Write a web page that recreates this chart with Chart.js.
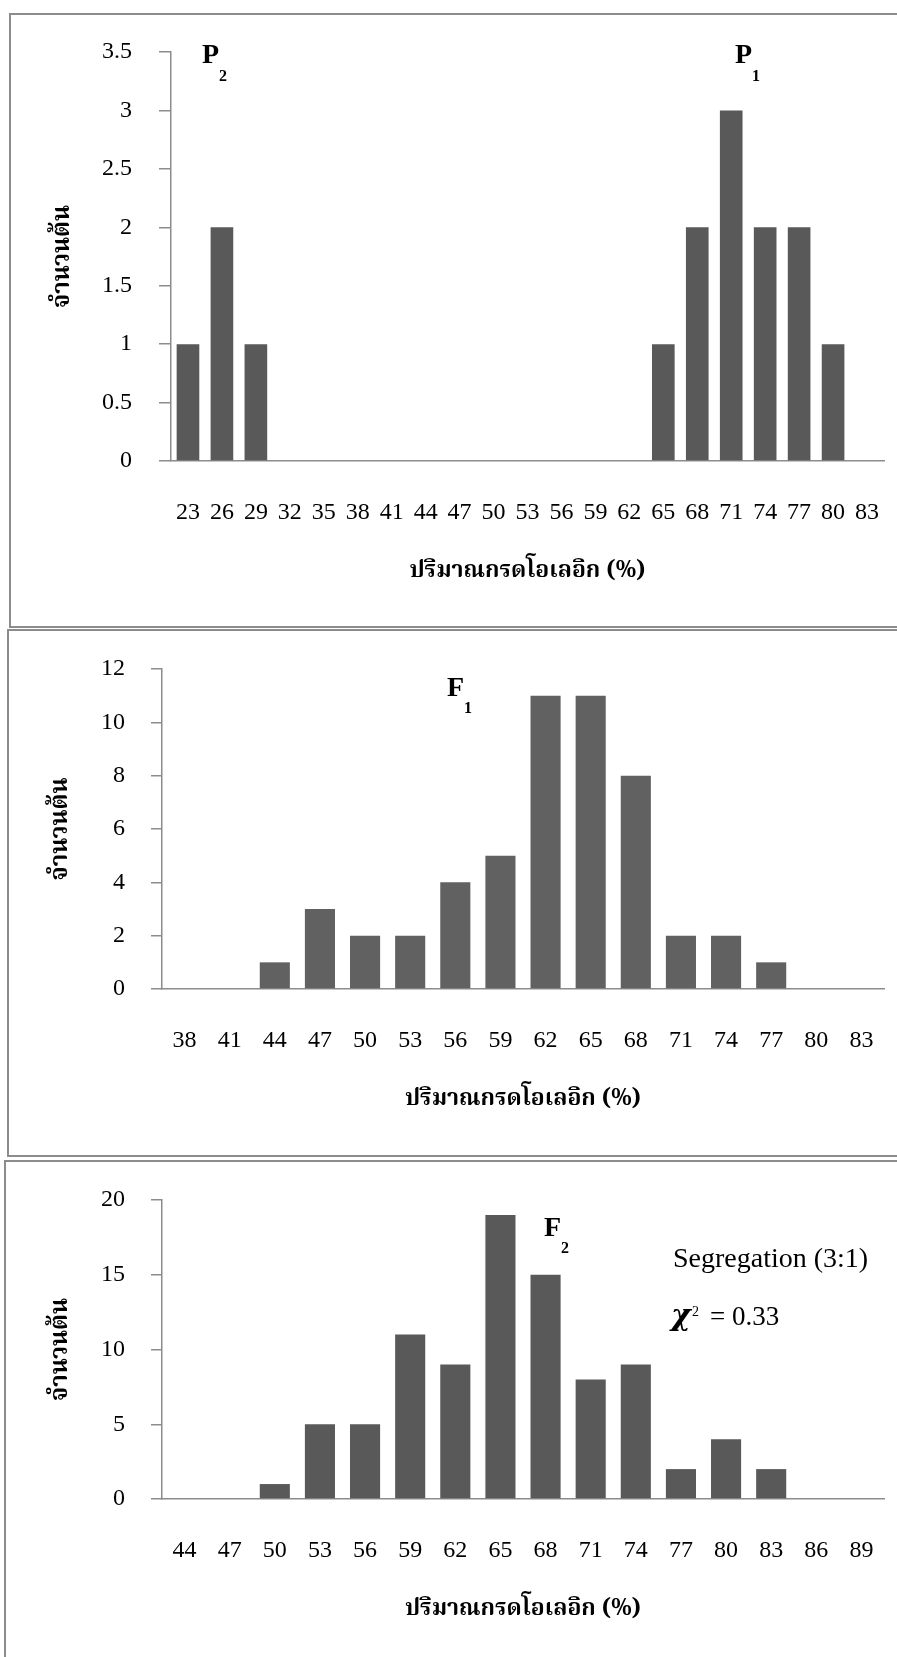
<!DOCTYPE html>
<html><head><meta charset="utf-8">
<script src="https://cdn.jsdelivr.net/npm/chart.js@4.4.1/dist/chart.umd.min.js"></script>
<style>
html,body{margin:0;padding:0;background:#fff;overflow:hidden;width:897px;height:1657px;position:relative}
.panel{position:absolute;border:2px solid #8c8c8c;box-sizing:border-box;background:#fff}
canvas{position:absolute;left:0}
</style></head><body>
<div class="panel" style="left:9px;top:13px;width:950px;height:615px"></div>
<div class="panel" style="left:7px;top:629px;width:950px;height:528px"></div>
<div class="panel" style="left:4px;top:1160px;width:950px;height:560px"></div>
<canvas id="c1" width="897" height="615" style="top:13px;width:897px;height:615px"></canvas>
<canvas id="c2" width="897" height="528" style="top:629px;width:897px;height:528px"></canvas>
<canvas id="c3" width="897" height="497" style="top:1160px;width:897px;height:497px"></canvas>
<script>
// ---- data ----
const catsP = ['23','26','29','32','35','38','41','44','47','50','53','56','59','62','65','68','71','74','77','80','83'];
const countsP = [1,2,1,0,0,0,0,0,0,0,0,0,0,0,1,2,3,2,2,1,0];
const yTicksP = [0,0.5,1,1.5,2,2.5,3,3.5];

const catsF1 = ['38','41','44','47','50','53','56','59','62','65','68','71','74','77','80','83'];
const countsF1 = [0,0,1,3,2,2,4,5,11,11,8,2,2,1,0,0];
const yTicksF1 = [0,2,4,6,8,10,12];

const catsF2 = ['44','47','50','53','56','59','62','65','68','71','74','77','80','83','86','89'];
const countsF2 = [0,0,1,5,5,11,9,19,15,8,9,2,4,2,0,0];
const yTicksF2 = [0,5,10,15,20];

const xTitle = 'ปริมาณกรดโอเลอิก (%)';
const yTitle = 'จำนวนต้น';

const SERIF = "'Liberation Serif','Times New Roman',serif";
const THAI = "'Noto Serif Thai','Noto Sans Thai','Liberation Serif',serif";
const AXIS = '#8c8c8c';

function notesPlugin(items){
  return {id:'notes', afterDraw(chart){
    const ctx = chart.ctx;
    items.forEach(it=>{
      ctx.save();
      ctx.font = it.font; ctx.fillStyle = '#000';
      ctx.textAlign = 'left'; ctx.textBaseline = 'alphabetic';
      ctx.fillText(it.text, it.x, it.y);
      ctx.restore();
    });
  }};
}

function makeChart(id, cats, counts, yTicks, L, notes, color){
  return new Chart(document.getElementById(id), {
    type:'bar',
    data:{labels:cats, datasets:[{data:counts, backgroundColor:color, borderWidth:0,
      barPercentage:0.667, categoryPercentage:1}]},
    options:{
      responsive:false, animation:false, devicePixelRatio:1,
      layout:{padding:{top:L.top, right:L.right, bottom:L.bottom, left:0}},
      plugins:{legend:{display:false}, tooltip:{enabled:false}},
      scales:{
        x:{
          grid:{display:true, drawOnChartArea:false, drawTicks:true, tickLength:37, color:'rgba(0,0,0,0)'},
          border:{display:true, color:AXIS, width:1.5},
          ticks:{font:{family:SERIF, size:24}, color:'#000', padding:0, maxRotation:0, autoSkip:false},
          title:{display:true, text:xTitle, color:'#000', font:{family:THAI, size:23, weight:'bold'},
                 padding:{top:0, bottom:14}},
          afterFit:(s)=>{ s.height = L.xh; }
        },
        y:{
          min:0, max:yTicks[yTicks.length-1],
          afterBuildTicks:(s)=>{ s.ticks = yTicks.map(v=>({value:v})); },
          grid:{display:true, drawOnChartArea:false, drawTicks:true, tickLength:L.tl, color:AXIS, lineWidth:1.5},
          border:{display:true, color:AXIS, width:1.5},
          ticks:{font:{family:SERIF, size:24, lineHeight:1}, color:'#000', padding:L.tp, callback:(v)=>String(v)},
          title:{display:true, text:yTitle, color:'#000', font:{family:THAI, size:24, weight:'bold'},
                 padding:{top:L.ytp, bottom:0}},
          afterFit:(s)=>{ s.width = L.yw; }
        }
      }
    },
    plugins:[notesPlugin(notes)]
  });
}

const B28 = "bold 28px " + SERIF, B16 = "bold 16px " + SERIF;

makeChart('c1', catsP, countsP, yTicksP,
  {top:39, right:13, bottom:27, xh:140, yw:171, tl:12, tp:27, ytp:51},
  [{text:'P', x:202, y:50, font:B28},{text:'2', x:219, y:68, font:B16},
   {text:'P', x:735, y:50, font:B28},{text:'1', x:752, y:68, font:B16}], '#595959');

makeChart('c2', catsF1, countsF1, yTicksF1,
  {top:40, right:13, bottom:28, xh:140, yw:162, tl:11, tp:26, ytp:49},
  [{text:'F', x:447, y:67, font:B28},{text:'1', x:464, y:84, font:B16}], '#616161');

makeChart('c3', catsF2, countsF2, yTicksF2,
  {top:40, right:13, bottom:18, xh:140, yw:162, tl:11, tp:26, ytp:49},
  [{text:'F', x:544, y:76, font:B28},{text:'2', x:561, y:93, font:B16},
   {text:'Segregation (3:1)', x:673, y:107, font:"28px " + SERIF},
   {text:'χ', x:671, y:165, font:"bold italic 30px 'DejaVu Serif'," + SERIF},
   {text:'2', x:692, y:156, font:"14px " + SERIF},
   {text:'= 0.33', x:710, y:165, font:"27px " + SERIF}], '#595959');
</script>
</body></html>
